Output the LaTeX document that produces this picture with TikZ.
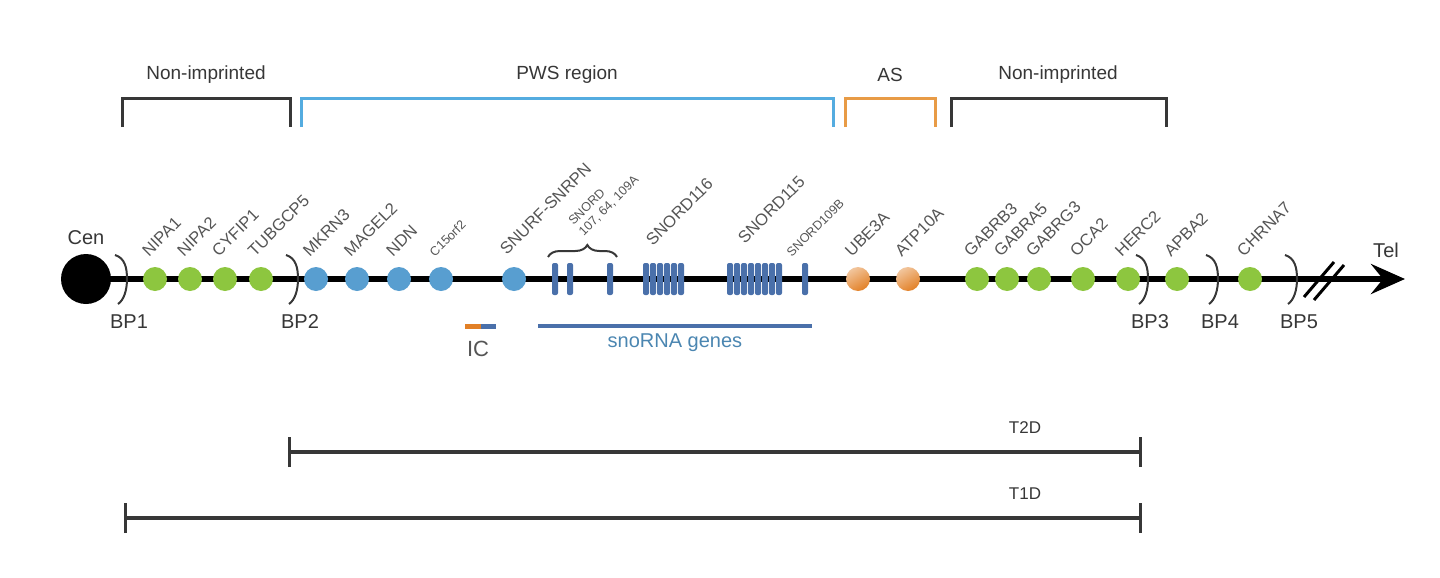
\documentclass[tikz,border=0pt]{standalone}
\usepackage{fontspec}
\setmainfont{Liberation Sans}
\usetikzlibrary{
  arrows.meta,
  calc,
  positioning,
  decorations.pathreplacing
}
\definecolor{genegreen}{RGB}{141,198,63}
\definecolor{geneblue}{RGB}{88,158,208}
\definecolor{geneorange}{RGB}{226,128,38}
\definecolor{snoblue}{RGB}{74,112,170}
\definecolor{pwsblue}{RGB}{84,172,224}
\definecolor{asorange}{RGB}{232,155,70}
\definecolor{labgray}{RGB}{85,85,85}
\definecolor{darkgray}{RGB}{55,55,55}
\tikzset{
  >=stealth,
  line cap=round,
  line join=round,
  chrom/.style={line width=2.7pt, -{Stealth[length=17pt,width=15pt,inset=6pt]}},
  centro/.style={circle, fill=black, minimum size=25pt, inner sep=0pt},
  gene/.style={circle, minimum size=12pt, inner sep=0pt},
  greengene/.style={gene, fill=genegreen},
  bluegene/.style={gene, fill=geneblue},
  orangegene/.style={gene, shade, top color=geneorange!45!white, bottom color=geneorange, shading angle=30},
  snobar/.style={rectangle, rounded corners=1pt, fill=snoblue, minimum width=3pt, minimum height=16pt, inner sep=0pt},
  genelab/.style={rotate=45, anchor=south west, inner sep=0pt, text=labgray, font=\fontsize{8.3}{10}\selectfont},
  smalllab/.style={genelab, font=\fontsize{6.3}{7.3}\selectfont},
  bplab/.style={text=darkgray, font=\fontsize{10}{12}\selectfont},
  bparc/.style={draw=darkgray, line width=1pt},
  regionlab/.style={text=darkgray, font=\fontsize{9.5}{11}\selectfont},
  bracketline/.style={line width=1.5pt},
  spanline/.style={line width=1.6pt, draw=darkgray, {Bar[width=15pt]}-{Bar[width=15pt]}},
  spanlab/.style={text=darkgray, font=\fontsize{8.5}{10}\selectfont}
}

\begin{document}
\begin{tikzpicture}[x=0.5pt, y=-0.5pt]
  \useasboundingbox (0,0) rectangle (1440,578);

  % region brackets
  \draw[bracketline, darkgray] (122,127) -- (122,98) -- (290,98) -- (290,127);
  \draw[bracketline, pwsblue] (301,127) -- (301,98) -- (833,98) -- (833,127);
  \draw[bracketline, asorange] (845,127) -- (845,98) -- (935,98) -- (935,127);
  \draw[bracketline, darkgray] (951,127) -- (951,98) -- (1166,98) -- (1166,127);
  \node[regionlab] (ni1) at (206,75) {Non-imprinted};
  \node[regionlab] (pws) at (567,75) {PWS region};
  \node[regionlab] (as) at (890,75) {AS};
  \node[regionlab] (ni2) at (1058,75) {Non-imprinted};

  % chromosome
  \node[centro] (cen) at (86,279) {};
  \coordinate (tel) at (1405,279);
  \draw[chrom] (cen.center) -- (tel);
  \node[bplab, above=1pt of cen] (cenlab) {Cen};
  \node[bplab] (tellab) at (1386,250) {Tel};

  % break
  \draw[line width=1.5pt] (1304,297) -- (1334,262);
  \draw[line width=1.5pt] (1314,300) -- (1344,265);

  % breakpoints
  \foreach \b/\x in {1/127,2/298,3/1148,4/1218,5/1297}{
    \coordinate (bp\b) at (\x,279);
    \draw[bparc] (\x-12,255) .. controls (\x-2,258) and (\x,268) .. (bp\b)
      .. controls (\x,290) and (\x-3,300) .. (\x-9,304);
    \node[bplab] (bp\b-l) at (\x+2,322) {BP\b};
  }

  % genes
  \node[greengene] (nipa1) at (155,279) {};
  \node[greengene] (nipa2) at (190,279) {};
  \node[greengene] (cyfip1) at (225,279) {};
  \node[greengene] (tubgcp5) at (261,279) {};
  \node[bluegene] (mkrn3) at (316,279) {};
  \node[bluegene] (magel2) at (357,279) {};
  \node[bluegene] (ndn) at (399,279) {};
  \node[bluegene] (c15orf2) at (441,279) {};
  \node[bluegene] (snurf) at (514,279) {};
  \node[orangegene] (ube3a) at (858,279) {};
  \node[orangegene] (atp10a) at (908,279) {};
  \node[greengene] (gabrb3) at (977,279) {};
  \node[greengene] (gabra5) at (1007,279) {};
  \node[greengene] (gabrg3) at (1039,279) {};
  \node[greengene] (oca2) at (1083,279) {};
  \node[greengene] (herc2) at (1128,279) {};
  \node[greengene] (apba2) at (1177,279) {};
  \node[greengene] (chrna7) at (1250,279) {};

  % snoRNA bars
  \node[snobar] (sno64) at (555,279) {};
  \node[snobar] (sno107) at (570,279) {};
  \node[snobar] (sno109a) at (610,279) {};
  \foreach \x in {646,653,...,681} \node[snobar] (s116-\x) at (\x,279) {};
  \foreach \x in {730,737,...,779} \node[snobar] (s115-\x) at (\x,279) {};
  \node[snobar] (sno109b) at (805,279) {};
  \draw[bparc, decorate, decoration={brace, amplitude=6pt, aspect=0.57}] (548,257) -- (617,257);

  % gene labels
  \node[genelab] (nipa1-l) at (149,258) {NIPA1};
  \node[genelab] (nipa2-l) at (184,258) {NIPA2};
  \node[genelab] (cyfip1-l) at (219,258) {CYFIP1};
  \node[genelab] (tubgcp5-l) at (255,258) {TUBGCP5};
  \node[genelab] (mkrn3-l) at (310,258) {MKRN3};
  \node[genelab] (magel2-l) at (351,258) {MAGEL2};
  \node[genelab] (ndn-l) at (393,258) {NDN};
  \node[smalllab] (c15orf2-l) at (435,258) {C15orf2};
  \node[genelab] (snurf-l) at (507,256) {SNURF-SNRPN};
  \node[smalllab, align=left] (snord-l) at (585,238) {SNORD\\107, 64, 109A};
  \node[genelab] (s116-l) at (653,247) {SNORD116};
  \node[genelab] (s115-l) at (745,245) {SNORD115};
  \node[smalllab] (s109b-l) at (792,258) {SNORD109B};
  \node[genelab] (ube3a-l) at (852,258) {UBE3A};
  \node[genelab] (atp10a-l) at (902,258) {ATP10A};
  \node[genelab] (gabrb3-l) at (971,258) {GABRB3};
  \node[genelab] (gabra5-l) at (1001,258) {GABRA5};
  \node[genelab] (gabrg3-l) at (1033,258) {GABRG3};
  \node[genelab] (oca2-l) at (1077,258) {OCA2};
  \node[genelab] (herc2-l) at (1122,258) {HERC2};
  \node[genelab] (apba2-l) at (1171,258) {APBA2};
  \node[genelab] (chrna7-l) at (1244,258) {CHRNA7};

  % imprinting centre and snoRNA genes
  \coordinate (ica) at (465,326);
  \coordinate (icb) at (481,326);
  \coordinate (icc) at (496,326);
  \draw[line width=2.5pt, geneorange] (ica) -- (icb);
  \draw[line width=2.5pt, snoblue, line cap=butt] (icb) -- (icc);
  \node[bplab, text=labgray, font=\fontsize{11}{13}\selectfont] (ic) at (478,349) {IC};
  \coordinate (snoa) at (538,326);
  \coordinate (snob) at (812,326);
  \draw[line width=2pt, snoblue] (snoa) -- (snob);
  \node[bplab, text=geneblue!85!black] (snolab) at (675,343) {snoRNA genes};

  % deletion classes
  \coordinate (t2da) at (288,452);
  \coordinate (t2db) at (1142,452);
  \draw[spanline] (t2da) -- (t2db);
  \node[spanlab] (t2d) at (1025,428) {T2D};
  \coordinate (t1da) at (124,518);
  \coordinate (t1db) at (1142,518);
  \draw[spanline] (t1da) -- (t1db);
  \node[spanlab] (t1d) at (1025,494) {T1D};
\end{tikzpicture}
\end{document}
